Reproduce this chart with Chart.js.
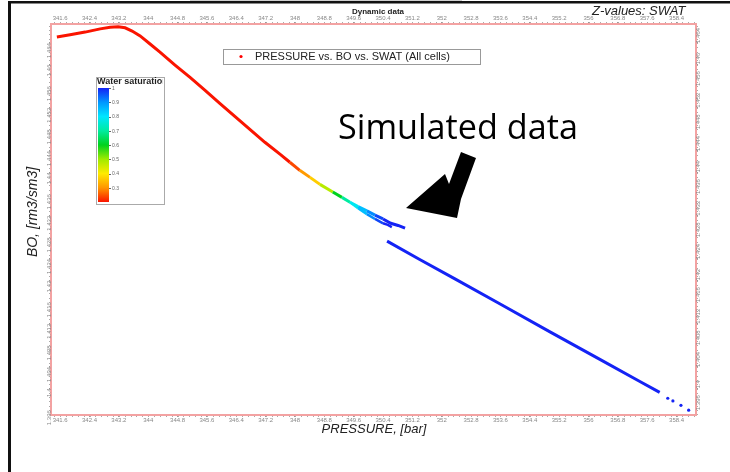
<!DOCTYPE html>
<html>
<head>
<meta charset="utf-8">
<script src="https://cdn.jsdelivr.net/npm/chart.js@4.4.1/dist/chart.umd.min.js"></script>
<style>
html, body { margin: 0; padding: 0; background: #fff; }
</style>
</head>
<body>
<canvas id="graficoBo" width="730" height="472"></canvas>
<script>
// main curve: red part plus the branch that runs further right
const pressureMain = [341.51, 341.87, 342.28, 342.69, 342.96, 343.18, 343.37, 343.56, 343.78, 344.05,
    344.32, 344.73, 345.14, 345.55, 345.95, 346.36, 346.77, 347.18, 347.59, 347.86,
    348.13, 348.41, 348.68, 349.03, 349.28, 349.50, 349.72, 349.96, 350.18, 350.40,
    350.61, 350.81, 351.00];
const boMain = [1.4651, 1.4655, 1.4660, 1.4666, 1.4669, 1.4670, 1.4668, 1.4662, 1.4653, 1.4638,
    1.4623, 1.4599, 1.4576, 1.4552, 1.4528, 1.4504, 1.4480, 1.4456, 1.4434, 1.4419,
    1.4404, 1.4391, 1.4378, 1.4364, 1.4354, 1.4345, 1.4337, 1.4329, 1.4321, 1.4314,
    1.4306, 1.4302, 1.4297];
const swatMain = [0.2, 0.2, 0.2, 0.2, 0.2, 0.2, 0.2, 0.2, 0.2, 0.2,
    0.2, 0.2, 0.2, 0.2, 0.2, 0.2, 0.2, 0.2, 0.2, 0.2,
    0.28, 0.33, 0.4, 0.55, 0.65, 0.75, 0.82, 0.88, 0.94, 1,
    1, 1, 1];

// second, shorter branch after the split
const pressureBranch = [349.50, 349.72, 349.96, 350.18, 350.40, 350.53, 350.64];
const boBranch = [1.4345, 1.4334, 1.4323, 1.4314, 1.4306, 1.4303, 1.4299];
const swatBranch = [0.75, 0.82, 0.88, 0.94, 1, 1, 1];

// lower blue line (all cells fully water saturated)
const pressureLow = [350.51, 351.40, 352.36, 353.58, 354.95, 356.31, 357.40, 357.94];
const boLow = [1.4273, 1.4239, 1.4203, 1.4157, 1.4105, 1.4054, 1.4013, 1.3993];
const pressureTail = [358.16, 358.30, 358.52, 358.73];
const boTail = [1.3982, 1.3977, 1.3969, 1.3960];

const colorbarTicks = [1, 0.9, 0.8, 0.7, 0.6, 0.5, 0.4, 0.3];

const xMin = 341.35, xMax = 358.93;
const yMin = 1.3951, yMax = 1.4675;

// jet-like colour scale used by the simulator
const jetStops = [
    [0.2, [250, 20, 0]],
    [0.3, [255, 150, 0]],
    [0.4, [255, 235, 0]],
    [0.5, [160, 235, 0]],
    [0.6, [0, 210, 30]],
    [0.7, [0, 235, 160]],
    [0.8, [0, 230, 255]],
    [0.9, [0, 150, 255]],
    [1.0, [20, 35, 245]],
];

function jet(v) {
    if (v <= jetStops[0][0]) return "rgb(" + jetStops[0][1].join(",") + ")";
    for (let i = 1; i < jetStops.length; i++) {
        if (v <= jetStops[i][0]) {
            const a = jetStops[i - 1], b = jetStops[i];
            const t = (v - a[0]) / (b[0] - a[0]);
            const c = a[1].map((k, j) => Math.round(k + (b[1][j] - k) * t));
            return "rgb(" + c.join(",") + ")";
        }
    }
    return "rgb(" + jetStops[jetStops.length - 1][1].join(",") + ")";
}

function points(xs, ys) {
    return xs.map((x, i) => ({ x: x, y: ys[i] }));
}

function coloredLine(xs, ys, sw, width) {
    return {
        data: points(xs, ys),
        showLine: true,
        borderWidth: width,
        pointRadius: 0,
        borderColor: jet(sw[0]),
        segment: {
            borderColor: ctx => jet((sw[ctx.p0DataIndex] + sw[ctx.p1DataIndex]) / 2),
        },
    };
}

const tickFont = { size: 6, family: "Liberation Sans" };

function xAxis(pos) {
    return {
        type: "linear",
        position: pos,
        min: xMin,
        max: xMax,
        ticks: {
            stepSize: 0.8,
            includeBounds: false,
            autoSkip: false,
            maxRotation: 0,
            padding: 0,
            font: tickFont,
            color: "#888",
            callback: v => String(Math.round(v * 10) / 10),
        },
        grid: { drawOnChartArea: false, tickLength: 2, color: "#999" },
        border: { color: "#f3a2a2", width: 2 },
        afterFit: s => { s.height = 14; },
    };
}

function yAxis(pos) {
    return {
        type: "linear",
        position: pos,
        min: yMin,
        max: yMax,
        ticks: {
            stepSize: 0.004,
            includeBounds: false,
            autoSkip: false,
            minRotation: 90,
            maxRotation: 90,
            padding: 0,
            font: tickFont,
            color: "#888",
            callback: v => String(Math.round(v * 1000) / 1000),
        },
        grid: { drawOnChartArea: false, tickLength: 2, color: "#999" },
        border: { color: "#f3a2a2", width: 2 },
        afterFit: s => { s.width = 20; },
    };
}

const decorations = {
    id: "decorations",
    beforeDraw(chart) {
        const c = chart.ctx;
        c.save();
        c.fillStyle = "#fff";
        c.fillRect(0, 0, chart.width, chart.height);
        // page frame
        c.fillStyle = "#cfcfcf";
        c.fillRect(190, 0, 272, 2);
        c.fillStyle = "#111";
        c.fillRect(8, 1, 3, 471);
        c.fillRect(8, 1, 722, 2.5);
        c.restore();
    },
    afterDraw(chart) {
        const c = chart.ctx;
        const area = chart.chartArea;
        const sx = chart.scales.x, sy = chart.scales.y;
        c.save();

        // minor ticks
        c.strokeStyle = "#aaa";
        c.lineWidth = 1;
        c.beginPath();
        for (let v = 341.44; v < xMax; v += 0.16) {
            const px = Math.round(sx.getPixelForValue(v)) + 0.5;
            c.moveTo(px, area.bottom + 1); c.lineTo(px, area.bottom + 2);
            c.moveTo(px, area.top - 1); c.lineTo(px, area.top - 2);
        }
        for (let v = 1.3952; v < yMax; v += 0.0008) {
            const py = Math.round(sy.getPixelForValue(v)) + 0.5;
            c.moveTo(area.left - 1, py); c.lineTo(area.left - 2, py);
            c.moveTo(area.right + 1, py); c.lineTo(area.right + 2, py);
        }
        c.stroke();

        // titles
        c.fillStyle = "#222";
        c.textBaseline = "middle";
        c.textAlign = "center";
        c.font = "bold 8px 'Liberation Sans'";
        c.fillText("Dynamic data", 378, 12);
        c.textAlign = "left";
        c.textBaseline = "alphabetic";
        c.font = "italic 13px 'Liberation Sans'";
        c.fillText("Z-values: SWAT", 592, 15);
        c.textAlign = "center";
        c.textBaseline = "middle";
        c.font = "italic 13px 'Liberation Sans'";
        c.fillText("PRESSURE, [bar]", 374, 429);
        c.save();
        c.translate(33, 212);
        c.rotate(-Math.PI / 2);
        c.font = "italic 14px 'Liberation Sans'";
        c.fillText("BO, [rm3/sm3]", 0, 0);
        c.restore();

        // legend box
        c.fillStyle = "#fff";
        c.fillRect(223, 49, 257, 15);
        c.strokeStyle = "#999";
        c.lineWidth = 1;
        c.strokeRect(223.5, 49.5, 257, 15);
        c.fillStyle = "#f00";
        c.beginPath();
        c.arc(241, 56.5, 1.6, 0, Math.PI * 2);
        c.fill();
        c.fillStyle = "#222";
        c.textAlign = "left";
        c.font = "11px 'Liberation Sans'";
        c.fillText("PRESSURE vs. BO vs. SWAT (All cells)", 255, 57);

        // colour bar
        c.fillStyle = "#fff";
        c.fillRect(96, 77, 68, 127);
        c.strokeStyle = "#aaa";
        c.strokeRect(96.5, 77.5, 68, 127);
        c.save();
        c.beginPath();
        c.rect(97, 77, 66, 12);
        c.clip();
        c.fillStyle = "#222";
        c.font = "bold 9px 'Liberation Sans'";
        c.fillText("Water saturation", 97, 82);
        c.restore();
        const top = 88, bot = 202;
        const g = c.createLinearGradient(0, bot, 0, top);
        jetStops.forEach(s => {
            const t = (s[0] - 0.2) / 0.8;
            g.addColorStop(Math.min(1, Math.max(0, t)), "rgb(" + s[1].join(",") + ")");
        });
        c.fillStyle = g;
        c.fillRect(98, top, 11, bot - top);
        c.font = "5px 'Liberation Sans'";
        c.fillStyle = "#666";
        colorbarTicks.forEach(v => {
            const py = top + (1 - v) / 0.8 * (bot - top);
            c.fillRect(109, Math.round(py), 2, 1);
            c.fillText(String(v), 112, py + 0.5);
        });

        // annotation
        c.fillStyle = "#000";
        let size = 28;
        c.font = size + "px 'Open Sans'";
        size = size * 240 / c.measureText("Simulated data").width;
        c.font = size + "px 'Open Sans'";
        c.textBaseline = "alphabetic";
        c.fillText("Simulated data", 338, 139);

        c.beginPath();
        c.moveTo(406, 208);
        c.lineTo(445, 174);
        c.lineTo(449, 184);
        c.lineTo(461, 152);
        c.lineTo(476, 158);
        c.lineTo(461, 199);
        c.lineTo(457, 218);
        c.closePath();
        c.fill();
        c.restore();
    },
};

const ctx = document.getElementById("graficoBo").getContext("2d");

new Chart(ctx, {
    type: "scatter",
    data: {
        datasets: [
            coloredLine(pressureMain, boMain, swatMain, 3),
            coloredLine(pressureBranch, boBranch, swatBranch, 2.5),
            coloredLine(pressureLow, boLow, pressureLow.map(() => 1), 3),
            {
                data: points(pressureTail, boTail),
                pointRadius: 1.6,
                pointBorderWidth: 0,
                backgroundColor: jet(1),
            },
        ],
    },
    options: {
        responsive: false,
        animation: false,
        devicePixelRatio: 1,
        layout: { padding: { left: 31, right: 14, top: 10, bottom: 43 } },
        plugins: {
            legend: { display: false },
            tooltip: { enabled: false },
        },
        scales: {
            x: xAxis("bottom"),
            x2: xAxis("top"),
            y: yAxis("left"),
            y2: yAxis("right"),
        },
    },
    plugins: [decorations],
});
</script>
</body>
</html>
